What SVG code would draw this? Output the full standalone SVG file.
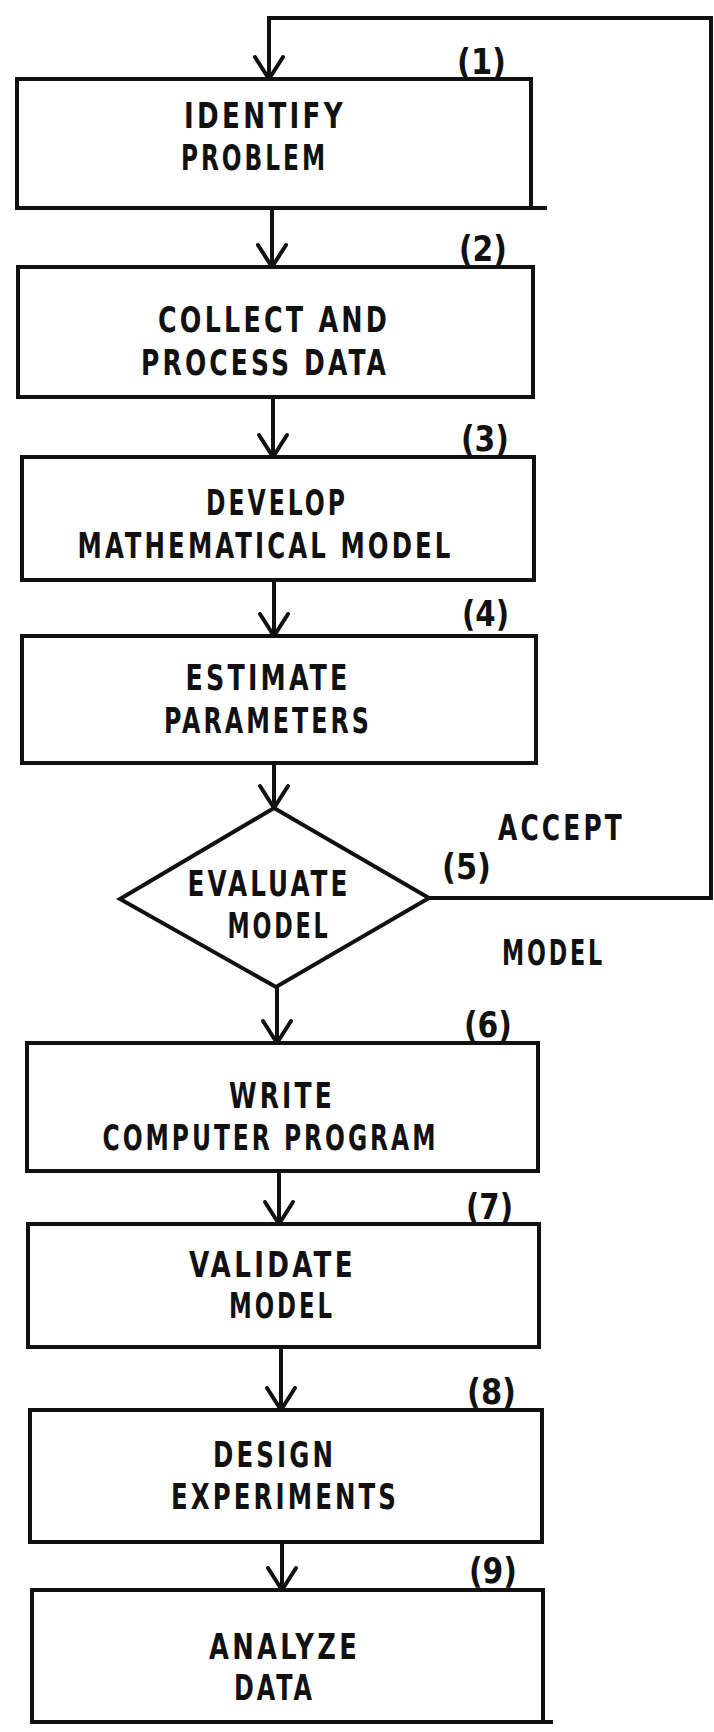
<svg xmlns="http://www.w3.org/2000/svg" width="714" height="1732" viewBox="0 0 714 1732">
<defs>
<style>
.box{fill:none;stroke:#111;stroke-width:4;stroke-linejoin:miter}
.ln{fill:none;stroke:#111;stroke-width:4}
.t{font-family:"DejaVu Sans","Liberation Sans",sans-serif;font-stretch:condensed;font-weight:bold;font-size:35px;letter-spacing:4px;fill:#111;text-anchor:middle}
.n{font-family:"DejaVu Sans","Liberation Sans",sans-serif;font-weight:bold;font-size:35px;fill:#111;text-anchor:middle}
</style>
<marker id="ah" markerUnits="userSpaceOnUse" viewBox="-26 -18 30 36" markerWidth="30" markerHeight="36" refX="0" refY="0" orient="auto">
<path d="M-22,-14 L0,0 L-22,14" fill="none" stroke="#111" stroke-width="4" stroke-linejoin="round" stroke-linecap="round"/>
</marker>
</defs>
<rect width="714" height="1732" fill="#fff"/>
<g id="connectors">
<path class="ln" d="M429,898 H711 V18 H269 V79" marker-end="url(#ah)"/>
<line class="ln" x1="272" y1="208" x2="272" y2="267" marker-end="url(#ah)"/>
<line class="ln" x1="273" y1="397" x2="273" y2="457" marker-end="url(#ah)"/>
<line class="ln" x1="274" y1="580" x2="274" y2="636" marker-end="url(#ah)"/>
<line class="ln" x1="274" y1="763" x2="274" y2="808" marker-end="url(#ah)"/>
<line class="ln" x1="277" y1="987" x2="277" y2="1043" marker-end="url(#ah)"/>
<line class="ln" x1="279" y1="1171" x2="279" y2="1224" marker-end="url(#ah)"/>
<line class="ln" x1="281" y1="1347" x2="281" y2="1410" marker-end="url(#ah)"/>
<line class="ln" x1="282" y1="1542" x2="282" y2="1590" marker-end="url(#ah)"/>
<text class="t" x="561.5" y="840" textLength="127" lengthAdjust="spacingAndGlyphs">ACCEPT</text>
<text class="t" x="553.5" y="965" textLength="103" lengthAdjust="spacingAndGlyphs">MODEL</text>
</g>
<g id="node1">
<rect class="box" x="17" y="79" width="514" height="129"/>
<line class="ln" x1="531" y1="208" x2="547" y2="208"/>
<text class="n" x="481.5" y="74" textLength="49" lengthAdjust="spacingAndGlyphs">(1)</text>
<text class="t" x="265" y="128" textLength="162" lengthAdjust="spacingAndGlyphs">IDENTIFY</text>
<text class="t" x="254.5" y="170" textLength="147" lengthAdjust="spacingAndGlyphs">PROBLEM</text>
</g>
<g id="node2">
<rect class="box" x="18" y="267" width="515" height="130"/>
<text class="n" x="483" y="261" textLength="48" lengthAdjust="spacingAndGlyphs">(2)</text>
<text class="t" x="274" y="332" textLength="232" lengthAdjust="spacingAndGlyphs">COLLECT AND</text>
<text class="t" x="265" y="375" textLength="248" lengthAdjust="spacingAndGlyphs">PROCESS DATA</text>
</g>
<g id="node3">
<rect class="box" x="22" y="457" width="512" height="123"/>
<text class="n" x="485" y="451" textLength="48" lengthAdjust="spacingAndGlyphs">(3)</text>
<text class="t" x="277" y="515" textLength="142" lengthAdjust="spacingAndGlyphs">DEVELOP</text>
<text class="t" x="265.5" y="558" textLength="376" lengthAdjust="spacingAndGlyphs">MATHEMATICAL MODEL</text>
</g>
<g id="node4">
<rect class="box" x="22" y="636" width="514" height="127"/>
<text class="n" x="485.5" y="626" textLength="47" lengthAdjust="spacingAndGlyphs">(4)</text>
<text class="t" x="268" y="690" textLength="165" lengthAdjust="spacingAndGlyphs">ESTIMATE</text>
<text class="t" x="268" y="733" textLength="208" lengthAdjust="spacingAndGlyphs">PARAMETERS</text>
</g>
<g id="node5">
<polygon class="box" points="274,808 429,898 276,987 120,899"/>
<text class="n" x="466.5" y="879" textLength="49" lengthAdjust="spacingAndGlyphs">(5)</text>
<text class="t" x="269" y="896" textLength="163" lengthAdjust="spacingAndGlyphs">EVALUATE</text>
<text class="t" x="279" y="938" textLength="103" lengthAdjust="spacingAndGlyphs">MODEL</text>
</g>
<g id="node6">
<rect class="box" x="27" y="1043" width="511" height="128"/>
<text class="n" x="488" y="1037" textLength="48" lengthAdjust="spacingAndGlyphs">(6)</text>
<text class="t" x="282" y="1108" textLength="106" lengthAdjust="spacingAndGlyphs">WRITE</text>
<text class="t" x="270.5" y="1150" textLength="336" lengthAdjust="spacingAndGlyphs">COMPUTER PROGRAM</text>
</g>
<g id="node7">
<rect class="box" x="28" y="1224" width="511" height="123"/>
<text class="n" x="489.5" y="1219" textLength="47" lengthAdjust="spacingAndGlyphs">(7)</text>
<text class="t" x="272.5" y="1277" textLength="167" lengthAdjust="spacingAndGlyphs">VALIDATE</text>
<text class="t" x="282" y="1318" textLength="106" lengthAdjust="spacingAndGlyphs">MODEL</text>
</g>
<g id="node8">
<rect class="box" x="30" y="1410" width="512" height="132"/>
<text class="n" x="491.5" y="1404" textLength="49" lengthAdjust="spacingAndGlyphs">(8)</text>
<text class="t" x="274.5" y="1467" textLength="123" lengthAdjust="spacingAndGlyphs">DESIGN</text>
<text class="t" x="285" y="1509" textLength="228" lengthAdjust="spacingAndGlyphs">EXPERIMENTS</text>
</g>
<g id="node9">
<rect class="box" x="32" y="1590" width="511" height="132"/>
<line class="ln" x1="543" y1="1722" x2="553" y2="1722"/>
<text class="n" x="493" y="1583" textLength="48" lengthAdjust="spacingAndGlyphs">(9)</text>
<text class="t" x="284.5" y="1659" textLength="151" lengthAdjust="spacingAndGlyphs">ANALYZE</text>
<text class="t" x="274.5" y="1700" textLength="81" lengthAdjust="spacingAndGlyphs">DATA</text>
</g>
</svg>
